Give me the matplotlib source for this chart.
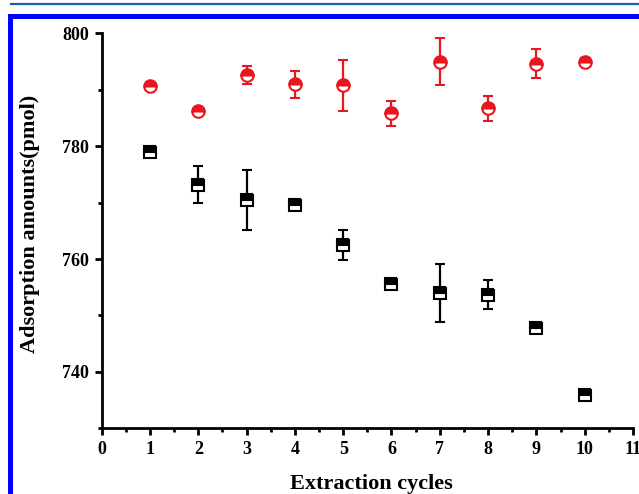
import matplotlib
matplotlib.use("Agg")
import matplotlib.pyplot as plt
from matplotlib.patches import Rectangle
from matplotlib.lines import Line2D
from matplotlib.ticker import MultipleLocator

# data
cycles = [1, 2, 3, 4, 5, 6, 7, 8, 9, 10]
black_mean = [778.9, 773.2, 770.5, 769.6, 762.5, 755.5, 754.0, 753.7, 747.7, 735.9]
black_err = [0.5, 3.3, 5.3, 0.5, 2.6, 0.6, 5.1, 2.5, 0.5, 0.6]
red_mean = [790.6, 786.2, 792.6, 791.0, 790.8, 785.8, 795.0, 786.7, 794.6, 795.0]
red_err = [0.4, 0.4, 1.6, 2.4, 4.5, 2.2, 4.1, 2.2, 2.6, 0.6]

plt.rcParams['font.family'] = ['Liberation Serif', 'DejaVu Serif']
plt.rcParams['font.weight'] = 'bold'

W, H = 639, 494
fig = plt.figure(figsize=(W / 100, H / 100), dpi=100)
ax = fig.add_axes([101.7 / W, 1 - 428.3 / H, (633 - 101.7) / W, (428.3 - 33.3) / H])

red = '#e8161e'
ax.errorbar(cycles, black_mean, yerr=black_err, fmt='s', color='black',
            markersize=8, markeredgewidth=1.5, fillstyle='top',
            markerfacecoloralt='white', ecolor='black', elinewidth=1.6,
            capsize=3.5, capthick=1.6)
ax.errorbar(cycles, red_mean, yerr=red_err, fmt='o', color=red,
            markersize=9, markeredgewidth=1.5, fillstyle='top',
            markerfacecoloralt='white', ecolor=red, elinewidth=1.6,
            capsize=3.5, capthick=1.6)

ax.set_xlim(0, 11)
ax.set_ylim(730, 800)
ax.set_xticks(range(0, 12))
ax.set_yticks([740, 760, 780, 800])
ax.xaxis.set_minor_locator(MultipleLocator(0.5))
ax.yaxis.set_minor_locator(MultipleLocator(10))

for s in ['top', 'right']:
    ax.spines[s].set_visible(False)
for s in ['left', 'bottom']:
    ax.spines[s].set_linewidth(2)
ax.tick_params(which='major', length=5, width=2, labelsize=13, pad=4)
ax.tick_params(which='minor', length=3, width=2)

ax.set_xlabel('Extraction cycles', fontsize=16, fontweight='bold')
ax.set_ylabel('Adsorption amounts(pmol)', fontsize=16, fontweight='bold')
ax.xaxis.set_label_coords(0.508, -0.115)
ax.yaxis.set_label_coords(-0.116, 0.518)

# blue page frame around the figure
fig.add_artist(Line2D([11 / W, 1], [1 - 4 / H, 1 - 4 / H], color='#1a5faf', lw=1.6))
fig.add_artist(Rectangle((8.3 / W, 1 - 19 / H), 1, 5 / H, color='#0000ff', lw=0))
fig.add_artist(Rectangle((8.3 / W, 0), 5 / W, 1 - 14 / H, color='#0000ff', lw=0))

fig.savefig('out.png', dpi=100)
